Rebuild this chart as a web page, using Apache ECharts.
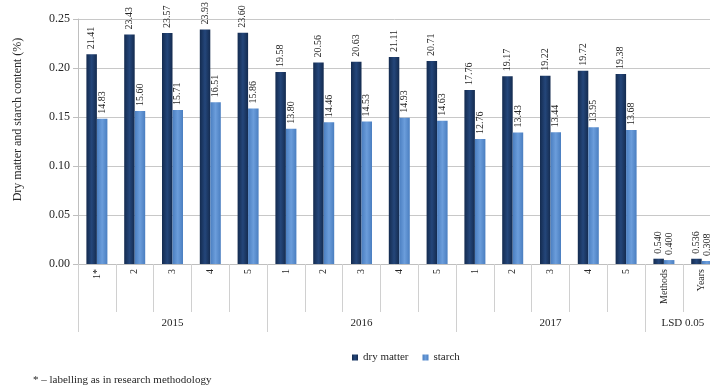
<!DOCTYPE html>
<html>
<head>
<meta charset="utf-8">
<script src="https://cdn.jsdelivr.net/npm/echarts@6/dist/echarts.min.js"></script>
<style>
  html, body { margin: 0; padding: 0; background: #fff; }
  #chart { width: 710px; height: 388px; }
</style>
</head>
<body>
<div id="chart"></div>
<script>
// Treatments per season, plus the two LSD 0.05 values
const categories = ['1*', '2', '3', '4', '5', '1', '2', '3', '4', '5', '1', '2', '3', '4', '5', 'Methods', 'Years'];
const groupLabels = ['2015', '2016', '2017', 'LSD 0.05'];
const groupSizes = [5, 5, 5, 2];

// Contents in percent
const dryMatter = [21.41, 23.43, 23.57, 23.93, 23.60, 19.58, 20.56, 20.63, 21.11, 20.71, 17.76, 19.17, 19.22, 19.72, 19.38, 0.540, 0.536];
const starch = [14.83, 15.60, 15.71, 16.51, 15.86, 13.80, 14.46, 14.53, 14.93, 14.63, 12.76, 13.43, 13.44, 13.95, 13.68, 0.400, 0.308];

const yTicks = [0, 0.05, 0.10, 0.15, 0.20, 0.25];

// group boundaries and centres on a 0..N scale
const groupEdges = [0];
const groupCentres = [];
groupSizes.forEach(function (n) {
  const start = groupEdges[groupEdges.length - 1];
  groupCentres.push(start + n / 2);
  groupEdges.push(start + n);
});

const FONT = '"Liberation Serif", "Times New Roman", serif';
const TEXT = '#262626';

function pct(v) { return v < 1 ? v.toFixed(3) : v.toFixed(2); }

function barFill(edge, mid) {
  return new echarts.graphic.LinearGradient(0, 0, 1, 0, [
    { offset: 0, color: edge },
    { offset: 0.5, color: mid },
    { offset: 1, color: edge }
  ]);
}

const labelStyle = {
  show: true,
  position: 'top',
  rotate: 90,
  align: 'left',
  verticalAlign: 'middle',
  distance: 5,
  fontFamily: FONT,
  fontSize: 10,
  color: TEXT,
  formatter: function (p) { return pct(p.data.pct); }
};

function toPoints(arr) {
  return arr.map(function (v) { return { value: v / 100, pct: v }; });
}

const chart = echarts.init(document.getElementById('chart'), null, { renderer: 'canvas' });

chart.setOption({
  animation: false,
  backgroundColor: '#ffffff',
  title: {
    text: '* \u2013 labelling as in research methodology',
    left: 28,
    top: 370,
    textStyle: { fontFamily: FONT, fontSize: 11, fontWeight: 'normal', color: TEXT }
  },
  legend: {
    left: 347,
    top: 347,
    itemWidth: 6,
    itemHeight: 6,
    itemGap: 14,
    icon: 'rect',
    textStyle: { fontFamily: FONT, fontSize: 11, color: TEXT },
    data: ['dry matter', 'starch']
  },
  // plot runs slightly past the right edge of the canvas
  grid: {
    left: 78, width: 642.6, top: 19, height: 245,
    containLabel: false,
    outerBoundsMode: 'none'
  },
  xAxis: [
    {
      type: 'category',
      data: categories,
      position: 'bottom',
      axisLine: { show: true, lineStyle: { color: '#bfbfbf', width: 1 } },
      axisTick: { show: true, alignWithLabel: false, length: 48, lineStyle: { color: '#d0d0d0' } },
      axisLabel: {
        rotate: 90,
        margin: 5,
        interval: 0,
        fontFamily: FONT,
        fontSize: 10,
        color: TEXT
      }
    },
    {
      type: 'value',
      position: 'bottom',
      min: 0,
      max: categories.length,
      splitLine: { show: false },
      axisLine: { show: false },
      axisTick: {
        show: true,
        length: 68,
        customValues: groupEdges,
        lineStyle: { color: '#d0d0d0' }
      },
      axisLabel: {
        show: true,
        margin: 54,
        customValues: groupCentres,
        fontFamily: FONT,
        fontSize: 11,
        color: TEXT,
        formatter: function (v) {
          const i = groupCentres.indexOf(v);
          return i >= 0 ? groupLabels[i] : '';
        }
      }
    }
  ],
  yAxis: {
    type: 'value',
    min: yTicks[0],
    max: yTicks[yTicks.length - 1],
    interval: 0.05,
    name: 'Dry matter and starch content (%)',
    nameLocation: 'middle',
    nameGap: 54,
    nameTextStyle: { fontFamily: FONT, fontSize: 12, color: TEXT, padding: [0, 0, 0, 44] },
    axisLine: { show: true, lineStyle: { color: '#bfbfbf' } },
    axisTick: { show: true, length: 5, lineStyle: { color: '#bfbfbf' } },
    splitLine: { show: true, lineStyle: { color: '#c8c8c8', width: 1 } },
    axisLabel: {
      margin: 8,
      fontFamily: FONT,
      fontSize: 12,
      color: TEXT,
      formatter: function (v) { return v.toFixed(2); }
    }
  },
  series: [
    {
      name: 'dry matter',
      type: 'bar',
      xAxisIndex: 0,
      barWidth: 10.5,
      barGap: '0%',
      itemStyle: { color: barFill('#142b4f', '#24467a') },
      label: labelStyle,
      data: toPoints(dryMatter)
    },
    {
      name: 'starch',
      type: 'bar',
      xAxisIndex: 0,
      barWidth: 10.5,
      barGap: '0%',
      itemStyle: { color: barFill('#4a7ec0', '#6b9ddb') },
      label: labelStyle,
      data: toPoints(starch)
    }
  ]
});
</script>
</body>
</html>
